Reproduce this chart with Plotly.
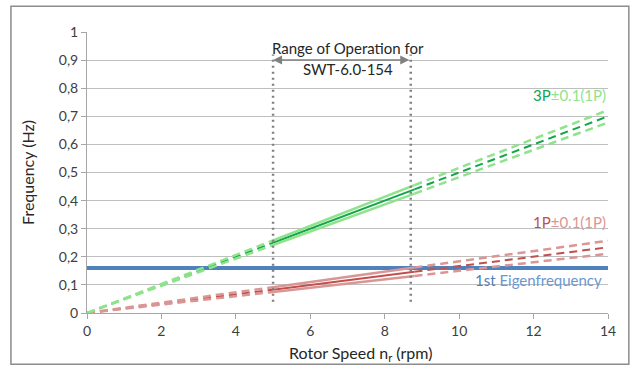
import plotly.graph_objects as go

# ---- data ----
rotor_speed = [0, 5, 8.8, 14]                 # rpm, segment break points
p3_center = [0, 0.25, 0.44, 0.70]             # 3P
p3_upper = [0, 0.258, 0.455, 0.722]           # 3P + 0.1(1P)
p3_lower = [0, 0.242, 0.425, 0.678]           # 3P - 0.1(1P)
p1_center = [0, 0.083, 0.147, 0.234]          # 1P
p1_upper = [0, 0.092, 0.162, 0.257]           # 1P + 0.1(1P)
p1_lower = [0, 0.075, 0.132, 0.211]           # 1P - 0.1(1P)
eigen_x = [0, 14]
eigen_y = [0.16, 0.16]                        # 1st eigenfrequency
range_op = [5, 8.7]                           # range of operation (rpm)
range_y = [0.04, 0.92]
x_ticks = [0, 2, 4, 6, 8, 10, 12, 14]
y_ticks = [0, 0.1, 0.2, 0.3, 0.4, 0.5, 0.6, 0.7, 0.8, 0.9, 1]

DARK_GREEN = "#12A64A"
LIGHT_GREEN = "#8FE38C"
DARK_RED = "#C0504D"
LIGHT_RED = "#DA9694"
BLUE = "#4F81BD"
GREY = "#808080"
DASH = "8px,5px"

fig = go.Figure()

def add_series(ys, color, width):
    # dashed outside the operating range, solid inside
    segs = [(0, 2, DASH), (1, 3, "solid"), (2, 4, DASH)]
    for a, b, d in segs:
        fig.add_trace(go.Scatter(
            x=rotor_speed[a:b], y=ys[a:b], mode="lines",
            line=dict(color=color, width=width, dash=d),
            hoverinfo="skip", showlegend=False))

# eigenfrequency
fig.add_trace(go.Scatter(x=eigen_x, y=eigen_y, mode="lines",
                         line=dict(color=BLUE, width=4),
                         hoverinfo="skip", showlegend=False))

add_series(p1_center, DARK_RED, 2)
add_series(p1_upper, LIGHT_RED, 2.5)
add_series(p1_lower, LIGHT_RED, 2.5)
add_series(p3_center, DARK_GREEN, 2)
add_series(p3_upper, LIGHT_GREEN, 2.5)
add_series(p3_lower, LIGHT_GREEN, 2.5)

# range of operation vertical dotted lines
for xv in range_op:
    fig.add_trace(go.Scatter(x=[xv, xv], y=range_y, mode="lines",
                             line=dict(color=GREY, width=2.5, dash="2px,4px"),
                             hoverinfo="skip", showlegend=False))

FONT = "Lato"

annotations = [
    # double-headed arrow
    dict(x=range_op[0], y=0.9, ax=range_op[1], ay=0.9, xref="x", yref="y",
         axref="x", ayref="y", text="", showarrow=True, arrowhead=2,
         arrowsize=1.2, arrowwidth=1.5, arrowcolor=GREY, startarrowhead=2,
         startarrowsize=1.2, arrowside="end+start"),
    dict(x=sum(range_op) / 2, y=0.9, xref="x", yref="y", yshift=12, xshift=6,
         text="Range of Operation for", showarrow=False,
         font=dict(family=FONT, size=15, color="#262626")),
    dict(x=sum(range_op) / 2, y=0.9, xref="x", yref="y", yshift=-9, xshift=6,
         text="SWT-6.0-154", showarrow=False,
         font=dict(family=FONT, size=15, color="#262626")),
    dict(x=14, y=0.776, xref="x", yref="y", xanchor="right", showarrow=False,
         text=f"<span style='color:{DARK_GREEN}'>3P</span><span style='color:{LIGHT_GREEN}'>±0.1(1P)</span>",
         font=dict(family=FONT, size=15)),
    dict(x=14, y=0.324, xref="x", yref="y", xanchor="right", showarrow=False,
         text=f"<span style='color:{DARK_RED}'>1P</span><span style='color:{LIGHT_RED}'>±0.1(1P)</span>",
         font=dict(family=FONT, size=15)),
    dict(x=13.9, y=0.117, xref="x", yref="y", xanchor="right", showarrow=False,
         text=f"<span style='color:{BLUE}'>1st</span><span style='color:#6B97CF'> Eigenfrequency</span>",
         font=dict(family=FONT, size=15)),
    # x axis title (slightly right of centre, as in the original)
    dict(x=0.525, y=-0.143, xref="paper", yref="paper", showarrow=False,
         text="Rotor Speed n<sub>r</sub> (rpm)", yanchor="middle",
         font=dict(family=FONT, size=16, color="#262626")),
]

fig.update_layout(
    width=630, height=368,
    margin=dict(l=87, r=22, t=32, b=55),
    paper_bgcolor="white", plot_bgcolor="white",
    separators=", ",
    showlegend=False,
    annotations=annotations,
    font=dict(family=FONT, size=13, color="#404040"),
    shapes=[dict(type="rect", xref="paper", yref="paper",
                 x0=-0.146, x1=1.04, y0=-0.182, y1=1.092,
                 line=dict(color="#8C8C8C", width=1.5), layer="below")],
)
fig.update_xaxes(range=[0, 14], tickvals=x_ticks, showgrid=False,
                 showline=True, linecolor="#A6A6A6", linewidth=1,
                 ticks="outside", ticklen=5, tickcolor="#A6A6A6",
                 zeroline=False, tickfont=dict(size=14))
fig.update_yaxes(range=[0, 1], tickvals=y_ticks, showgrid=True,
                 gridcolor="#BFBFBF", gridwidth=1,
                 showline=True, linecolor="#A6A6A6", linewidth=1,
                 ticks="outside", ticklen=5, tickcolor="#A6A6A6",
                 zeroline=False, tickfont=dict(size=14),
                 title=dict(text="Frequency (Hz)",
                            font=dict(size=16, color="#262626"), standoff=20))

fig.write_html("out.html")
